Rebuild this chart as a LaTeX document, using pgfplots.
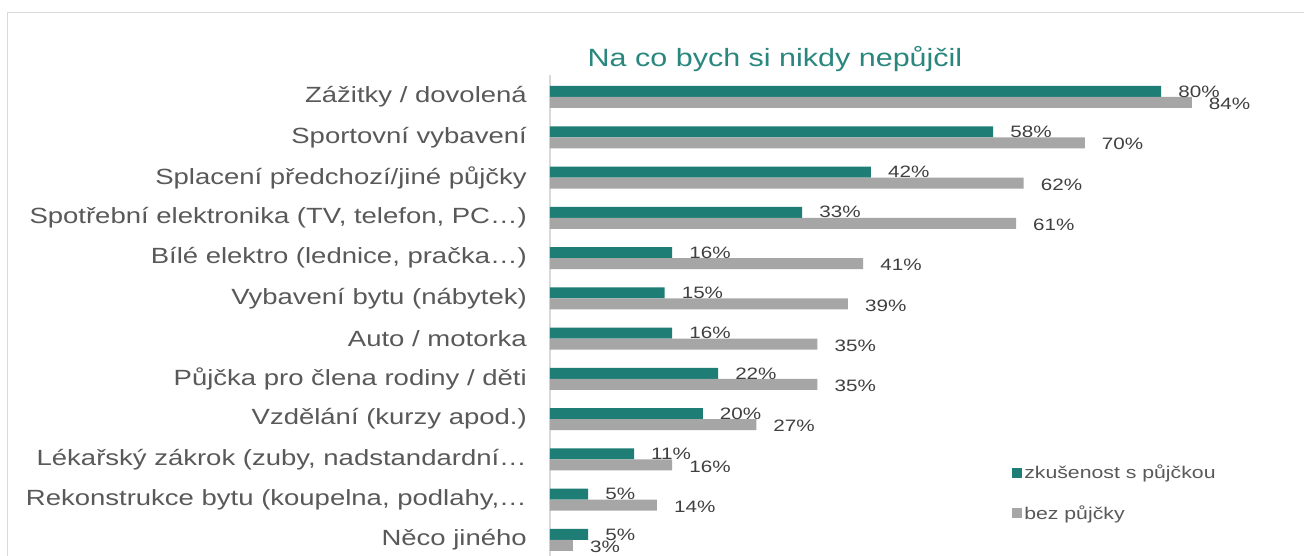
\documentclass[border=0pt]{standalone}
\usepackage{fontspec}
\setmainfont{Liberation Sans}
\usepackage{graphicx}
\usepackage{pgfplots}
\pgfplotsset{compat=1.18}
\definecolor{cteal}{HTML}{1E7D75}
\definecolor{cgray}{HTML}{A6A6A6}
\definecolor{ctext}{HTML}{595959}
\definecolor{cval}{HTML}{404040}
\definecolor{cframe}{HTML}{D9D9D9}
\definecolor{ctitle}{HTML}{2A877E}
\newcommand{\hs}[1]{\scalebox{1.25}[1]{#1}}
\begin{document}
\begin{tikzpicture}
\useasboundingbox (0,0) rectangle (1304pt,556pt);
\fill[white] (0,0) rectangle (1304pt,556pt);
\draw[cframe, line width=1.5pt] (7.5pt,-20pt) rectangle (1330pt,543.5pt);
\node[anchor=base, text=ctitle, font=\fontsize{25}{30}\selectfont, inner sep=0pt] at (775pt,489pt) {\scalebox{1.22}[1]{Na co bych si nikdy nepůjčil}};
\begin{axis}[
  at={(550pt,-6.15pt)}, anchor=south west,
  scale only axis, width=687.6pt, height=487.3pt,
  xmin=0, xmax=90, ymin=-0.55, ymax=11.55,
  axis x line=none, axis y line=left,
  y axis line style={draw=cframe, line width=1.2pt, -},
  xtick=\empty, ytick={0,...,11},
  major tick length=0pt,
  /pgf/number format/assume math mode=true,
  yticklabels={
    {\hs{Něco jiného}},
    {\hs{Rekonstrukce bytu (koupelna, podlahy,…}},
    {\hs{Lékařský zákrok (zuby, nadstandardní…}},
    {\hs{Vzdělání (kurzy apod.)}},
    {\hs{Půjčka pro člena rodiny / děti}},
    {\hs{Auto / motorka}},
    {\hs{Vybavení bytu (nábytek)}},
    {\hs{Bílé elektro (lednice, pračka…)}},
    {\hs{Spotřební elektronika (TV, telefon, PC…)}},
    {\hs{Splacení předchozí/jiné půjčky}},
    {\hs{Sportovní vybavení}},
    {\hs{Zážitky / dovolená}}},
  yticklabel style={font=\fontsize{22}{26}\selectfont, text=ctext, anchor=east, inner sep=0pt, xshift=-23pt},
  bar width=11pt,
  point meta=x,
  nodes near coords={\hs{\pgfmathprintnumber{\pgfplotspointmeta}\%}},
  nodes near coords style={font=\fontsize{16.5}{19}\selectfont, text=cval, anchor=west, inner sep=0pt, xshift=17pt},
  legend style={at={(0.672,0.2035)}, anchor=north west, draw=none, fill=none, inner sep=0pt, row sep=21pt, font=\fontsize{17}{20}\selectfont, text=ctext, nodes={inner sep=2pt}},
  legend cell align=left,
  clip=false,
]
\addplot[xbar, fill=cteal, draw=none, bar shift=5.5pt, nodes near coords style={yshift=5.5pt}, legend image code/.code={\fill[cteal] (0pt,-5pt) rectangle (10pt,5pt);}] coordinates {
(80,11) (58,10) (42,9) (33,8) (16,7) (15,6) (16,5) (22,4) (20,3) (11,2) (5,1) (5,0)};
\addplot[xbar, fill=cgray, draw=none, bar shift=-5.5pt, nodes near coords style={yshift=-7pt}, legend image code/.code={\fill[cgray] (0pt,-5pt) rectangle (10pt,5pt);}] coordinates {
(84,11) (70,10) (62,9) (61,8) (41,7) (39,6) (35,5) (35,4) (27,3) (16,2) (14,1) (3,0)};
\legend{\hs{zkušenost s půjčkou}, \hs{bez půjčky}}
\end{axis}
\end{tikzpicture}
\end{document}
